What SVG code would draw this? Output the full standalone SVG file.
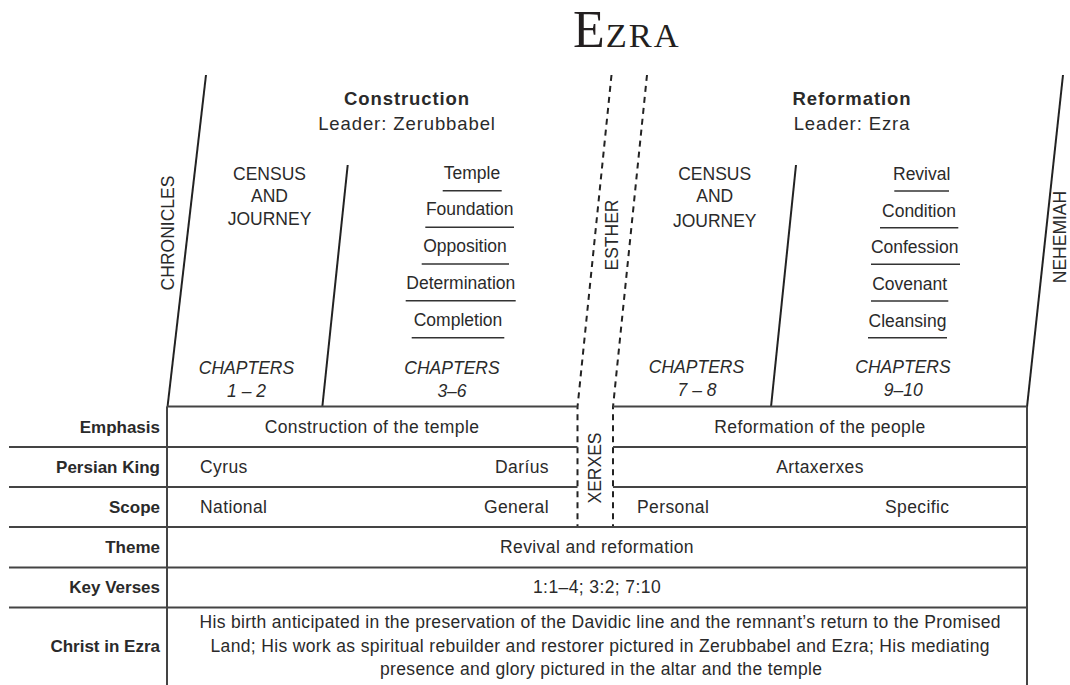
<svg xmlns="http://www.w3.org/2000/svg" width="1070" height="685" viewBox="0 0 1070 685">
<defs>
<style>
text{font-family:"Liberation Sans",Arial,Helvetica,sans-serif;fill:#2a2a2a;font-size:17.5px}
.title{font-family:"Liberation Serif","Times New Roman",serif;fill:#231f20}
.hd{font-weight:bold;font-size:18.5px;letter-spacing:0.9px}
.ld{font-size:18.5px;letter-spacing:0.9px}
.c{text-anchor:middle}
.e{text-anchor:end}
.it{font-style:italic}
.lbl{font-weight:bold;font-size:17px;text-anchor:end}
.cell{letter-spacing:0.4px}
.ln{stroke:#222;stroke-width:2;fill:none}
.tb{stroke:#444;stroke-width:2;fill:none}
.ds{stroke:#222;stroke-width:2;fill:none;stroke-dasharray:6 5}
.ul{stroke:#333;stroke-width:1.6}
</style>
</defs>
<rect width="1070" height="685" fill="#fff"/>

<g id="title">
<text class="title" x="573" y="47" style="font-size:52px;letter-spacing:1px">E<tspan style="font-size:34.5px;letter-spacing:2px">ZRA</tspan></text>
</g>

<g id="connectors">
<line class="ln" x1="206" y1="75" x2="167.5" y2="407"/>
<line class="ln" x1="347.7" y1="165" x2="322.3" y2="407"/>
<line class="ln" x1="796" y1="165" x2="771" y2="407"/>
<line class="ln" x1="1063" y1="75" x2="1027" y2="407"/>
<path class="ds" d="M611.5 75 L577.5 407 L577.5 527"/>
<path class="ds" d="M647 75 L613 407 L613 527"/>
</g>

<g id="table-lines">
<line class="tb" x1="167" y1="406.5" x2="577.5" y2="406.5"/>
<line class="tb" x1="613" y1="406.5" x2="1027" y2="406.5"/>
<line class="tb" x1="167" y1="406.5" x2="167" y2="685"/>
<line class="tb" x1="1027" y1="406.5" x2="1027" y2="685"/>
<line class="tb" x1="9" y1="447" x2="577.5" y2="447"/>
<line class="tb" x1="613" y1="447" x2="1027" y2="447"/>
<line class="tb" x1="9" y1="487" x2="577.5" y2="487"/>
<line class="tb" x1="613" y1="487" x2="1027" y2="487"/>
<line class="tb" x1="9" y1="527" x2="1027" y2="527"/>
<line class="tb" x1="9" y1="567.5" x2="1027" y2="567.5"/>
<line class="tb" x1="9" y1="607.5" x2="1027" y2="607.5"/>
</g>

<g id="side-books">
<text class="c" transform="translate(174,233) rotate(-90)">CHRONICLES</text>
<text class="c" transform="translate(618,235) rotate(-90)">ESTHER</text>
<text class="c" transform="translate(1066,237) rotate(-90)">NEHEMIAH</text>
<text class="c" transform="translate(601,468) rotate(-90)">XERXES</text>
</g>

<g id="construction">
<text class="c hd" x="407" y="104.5">Construction</text>
<text class="c ld" x="407" y="130">Leader: Zerubbabel</text>
</g>

<g id="reformation">
<text class="c hd" x="852" y="105">Reformation</text>
<text class="c ld" x="852" y="130">Leader: Ezra</text>
</g>

<g id="ch1-2">
<text class="c" x="269.5" y="179.5">CENSUS</text>
<text class="c" x="269.5" y="202">AND</text>
<text class="c" x="269.5" y="225">JOURNEY</text>
<text class="c it" x="246.5" y="373.5">CHAPTERS</text>
<text class="c it" x="246.5" y="396.5">1 – 2</text>
</g>

<g id="ch3-6">
<text class="c" x="472" y="178.5">Temple</text>
<line class="ul" x1="442.7" y1="190.7" x2="501.7" y2="190.7"/>
<text class="c" x="469.7" y="215">Foundation</text>
<line class="ul" x1="425.3" y1="227.3" x2="514" y2="227.3"/>
<text class="c" x="465" y="251.7">Opposition</text>
<line class="ul" x1="421.7" y1="264" x2="509" y2="264"/>
<text class="c" x="460.8" y="289.3">Determination</text>
<line class="ul" x1="405.7" y1="300.7" x2="515.7" y2="300.7"/>
<text class="c" x="458" y="326">Completion</text>
<line class="ul" x1="411.7" y1="337.7" x2="504.3" y2="337.7"/>
<text class="c it" x="452" y="373.5">CHAPTERS</text>
<text class="c it" x="452" y="396.5">3–6</text>
</g>

<g id="ch7-8">
<text class="c" x="714.7" y="180">CENSUS</text>
<text class="c" x="714.7" y="202">AND</text>
<text class="c" x="714.7" y="226.5">JOURNEY</text>
<text class="c it" x="696.5" y="373">CHAPTERS</text>
<text class="c it" x="697" y="396">7 – 8</text>
</g>

<g id="ch9-10">
<text class="c" x="921.7" y="180">Revival</text>
<line class="ul" x1="894.3" y1="191" x2="949" y2="191"/>
<text class="c" x="919" y="216.7">Condition</text>
<line class="ul" x1="880" y1="227.7" x2="958.3" y2="227.7"/>
<text class="c" x="914.7" y="253.3">Confession</text>
<line class="ul" x1="871" y1="264.3" x2="960" y2="264.3"/>
<text class="c" x="909.7" y="290">Covenant</text>
<line class="ul" x1="871" y1="301" x2="948.3" y2="301"/>
<text class="c" x="907.5" y="326.7">Cleansing</text>
<line class="ul" x1="868" y1="337.7" x2="947" y2="337.7"/>
<text class="c it" x="903" y="373">CHAPTERS</text>
<text class="c it" x="903.3" y="396">9–10</text>
</g>

<g id="row-emphasis">
<text class="lbl" x="160" y="433">Emphasis</text>
<text class="c cell" x="372" y="433">Construction of the temple</text>
<text class="c cell" x="820" y="433">Reformation of the people</text>
</g>
<g id="row-king">
<text class="lbl" x="160" y="473">Persian King</text>
<text class="cell" x="200" y="473">Cyrus</text>
<text class="e cell" x="549" y="473">Daríus</text>
<text class="c cell" x="820" y="473">Artaxerxes</text>
</g>
<g id="row-scope">
<text class="lbl" x="160" y="513">Scope</text>
<text class="cell" x="200" y="513">National</text>
<text class="e cell" x="549" y="513">General</text>
<text class="cell" x="637" y="513">Personal</text>
<text class="cell" x="885" y="513">Specific</text>
</g>
<g id="row-theme">
<text class="lbl" x="160" y="553">Theme</text>
<text class="c cell" x="597" y="553">Revival and reformation</text>
</g>
<g id="row-verses">
<text class="lbl" x="160" y="593">Key Verses</text>
<text class="c cell" x="597" y="593">1:1–4; 3:2; 7:10</text>
</g>
<g id="row-christ">
<text class="lbl" x="160" y="652">Christ in Ezra</text>
<text class="c" x="600" y="628" textLength="801" lengthAdjust="spacing">His birth anticipated in the preservation of the Davidic line and the remnant’s return to the Promised</text>
<text class="c" x="600" y="652" textLength="779" lengthAdjust="spacing">Land; His work as spiritual rebuilder and restorer pictured in Zerubbabel and Ezra; His mediating</text>
<text class="c" x="601" y="675" textLength="442" lengthAdjust="spacing">presence and glory pictured in the altar and the temple</text>
</g>
</svg>
